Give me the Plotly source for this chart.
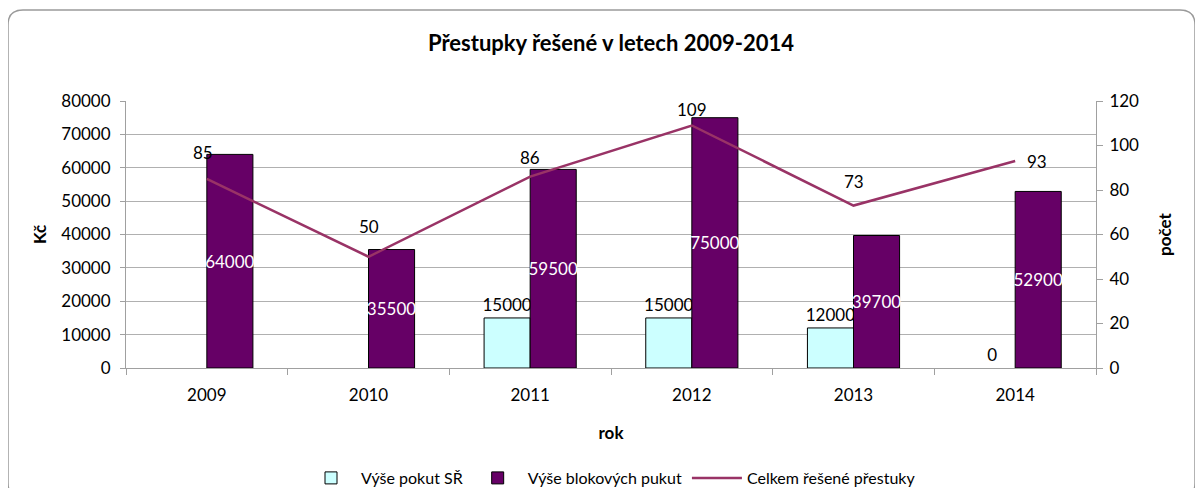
import plotly.graph_objects as go

years = ["2009", "2010", "2011", "2012", "2013", "2014"]
pokuty_sr = [None, None, 15000, 15000, 12000, 0]
blokove_pokuty = [64000, 35500, 59500, 75000, 39700, 52900]
celkem = [85, 50, 86, 109, 73, 93]

FONT = "Lato"
OFF = 8  # page body margin
W, H = 1203 - OFF, 488 - OFF
L, R, T, B = 126 - OFF, 1096 - OFF, 101 - OFF, 368 - OFF
pw, ph = R - L, B - T

def px(x):
    return (x - OFF - L) / pw

def py(y):
    return (B - (y - OFF)) / ph

fig = go.Figure()
fig.add_trace(go.Bar(
    x=years, y=pokuty_sr, name="Výše pokut SŘ",
    marker=dict(color="#CCFFFF",
                line=dict(color="black", width=[0 if v == 0 else 1 for v in pokuty_sr])),
    text=[("" if v is None else str(v)) for v in pokuty_sr],
    textposition="outside", textangle=0,
    textfont=dict(color="black", size=17, family=FONT),
    constraintext="none", cliponaxis=False,
))
fig.add_trace(go.Bar(
    x=years, y=blokove_pokuty, name="Výše blokových pukut",
    marker=dict(color="#660066", line=dict(color="black", width=1)),
    text=[str(v) for v in blokove_pokuty],
    textposition="inside", insidetextanchor="middle", textangle=0,
    textfont=dict(color="white", size=17, family=FONT),
    constraintext="none",
))
fig.add_trace(go.Scatter(
    x=years, y=celkem, name="Celkem řešené přestuky", yaxis="y2",
    mode="lines", line=dict(color="#993366", width=2.5),
))

shifts = [(-4, 26), (0, 30), (0, 19), (0, 16), (0, 24), (22, 0)]
for i, (v, (dx, dy)) in enumerate(zip(celkem, shifts)):
    fig.add_annotation(x=i, y=v, xref="x", yref="y2", text=str(v), showarrow=False,
                       xshift=dx, yshift=dy, font=dict(size=17, color="black", family=FONT))

# rounded border
x0, x1 = px(8), px(1195)
y0, y1 = py(498), py(10)
rx, ry = 15 / pw, 15 / ph
path = (f"M {x0+rx},{y1} L {x1-rx},{y1} Q {x1},{y1} {x1},{y1-ry} "
        f"L {x1},{y0+ry} Q {x1},{y0} {x1-rx},{y0} L {x0+rx},{y0} "
        f"Q {x0},{y0} {x0},{y0+ry} L {x0},{y1-ry} Q {x0},{y1} {x0+rx},{y1} Z")
fig.add_shape(type="path", path=path, xref="paper", yref="paper",
              line=dict(color="#9a9a9a", width=1.5), layer="below")

fig.update_layout(
    width=W, height=H,
    margin=dict(l=L, r=W - R, t=T, b=H - B, autoexpand=False),
    paper_bgcolor="white", plot_bgcolor="white",
    font=dict(family=FONT, size=17, color="black"),
    title=dict(text="<b>Přestupky řešené v letech 2009-2014</b>", x=0.5, xanchor="center",
               xref="paper", y=1 - (43 - OFF) / H, yanchor="middle",
               font=dict(size=22, family=FONT)),
    barmode="group", bargap=0.43, bargroupgap=0,
    xaxis=dict(type="category", range=[-0.5, len(years) - 0.5], showline=True,
               linecolor="#a0a0a0", ticks="outside", automargin=False,
               tickson="boundaries", ticklen=6, tickcolor="#a0a0a0", ticklabelstandoff=12,
               title=dict(text="<b>rok</b>", standoff=22, font=dict(size=17))),
    yaxis=dict(range=[0, 80000], dtick=10000, tickformat="d", showgrid=True,
               gridcolor="#b0b0b0", showline=True, linecolor="#a0a0a0", ticks="outside",
               ticklen=5, tickcolor="#a0a0a0", zeroline=False, automargin=False,
               ticklabelstandoff=6,
               title=dict(text="<b>Kč</b>", standoff=10, font=dict(size=17))),
    yaxis2=dict(range=[0, 120], dtick=20, overlaying="y", side="right", showgrid=False,
                showline=True, linecolor="#a0a0a0", ticks="outside", ticklen=6,
                tickcolor="#a0a0a0", zeroline=False, automargin=False,
                ticklabelstandoff=3,
                title=dict(text="<b>počet</b>", standoff=20, font=dict(size=17))),
    legend=dict(orientation="h", x=0.5, xanchor="center", y=py(478), yanchor="middle",
                font=dict(size=16), itemwidth=50, traceorder="normal"),
    showlegend=True,
)

fig.write_html("out.html")
